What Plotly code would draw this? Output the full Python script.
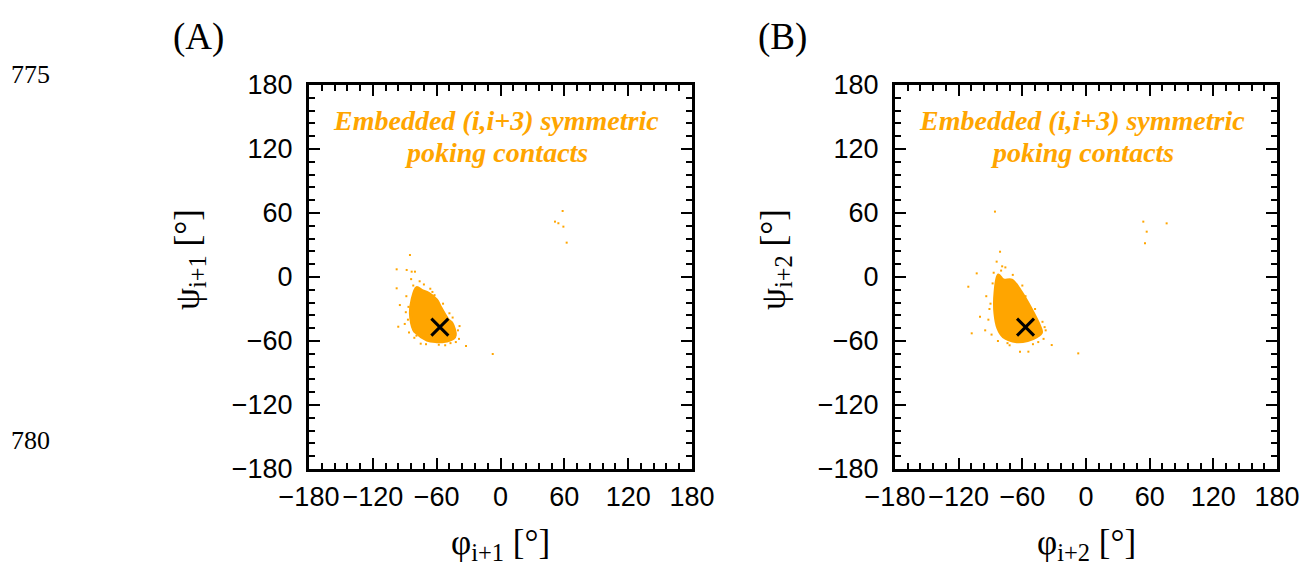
import plotly.graph_objects as go

# Dense core outline of the (phi, psi) distribution, panel A (degrees)
core_a_phi = [-78.8, -74.1, -67.6, -60.0, -56.6, -49.0, -45.6, -42.5, -44.3, -53.4, -60.0, -69.1, -80.4, -81.6, -84.7, -83.2]
core_a_psi = [-10.0, -12.5, -15.3, -21.6, -27.8, -40.3, -43.4, -54.4, -57.5, -60.6, -60.6, -59.1, -51.3, -49.7, -34.0, -21.6]

# Scattered contacts outside the core, panel A
sparse_a_phi = [-97.6, -88.2, -83.5, -85.1, -80.4, -96.1, -94.6, -97.6, -32.4, -7.3, 51.2, 54.4, 59.1, 62.2, 58.4,
                -87.0, -86.5, -82.0, -76.0, -72.0, -66.0, -62.0, -48.0, -40.0, -39.0, -42.0, -88.5, -90.0, -79.0, -70.0,
                -52.0, -58.0, -86.0, -84.0, -64.0, -54.0, -45.0, -38.5, -47.0, -75.0, -81.0, -89.0]
sparse_a_psi = [7.2, 6.6, 5.0, 20.6, 5.0, -46.6, -26.3, -10.6, -64.7, -72.2, 51.9, 50.4, 47.2, 32.2, 61.9,
                -40.0, -28.0, -8.0, -4.0, -7.0, -11.0, -17.0, -34.0, -50.0, -58.0, -61.0, -18.0, -44.0, -55.0, -63.0,
                -64.0, -63.5, -52.0, -2.0, -14.0, -25.0, -38.0, -46.0, -62.0, -62.5, -57.0, -33.0]

# Dense core outline, panel B
core_b_phi = [-77.9, -70.0, -62.2, -52.8, -43.4, -42.0, -46.4, -55.0, -65.3, -77.9, -83.0, -85.8, -85.8, -82.6]
core_b_psi = [-2.8, -2.8, -12.2, -27.8, -46.6, -52.0, -56.0, -59.5, -60.6, -56.0, -48.0, -34.1, -15.3, 1.9]

# Scattered contacts outside the core, panel B
sparse_b_phi = [-85.8, -81.0, -84.2, -103.0, -110.9, -99.9, -107.7, -62.2, -54.3, -32.3, -7.3, 54.0, 76.0, 57.2, 55.6,
                -90.0, -92.0, -88.0, -80.0, -76.0, -69.0, -60.0, -48.0, -38.0, -40.0, -94.0, -95.0, -83.0, -72.0, -50.0,
                -79.0, -89.0, -87.0, -67.0, -57.0, -41.0, -39.0, -45.0, -74.0, -91.0]
sparse_b_psi = [61.3, 23.7, 14.4, 3.4, -9.1, -37.2, -52.8, -70.0, -70.0, -63.8, -71.6, 51.9, 50.3, 42.5, 31.6,
                -25.0, -40.0, -6.0, 6.0, 9.0, 2.0, -8.0, -30.0, -50.0, -58.0, -18.0, -50.0, -60.0, -64.0, -63.0,
                10.0, -54.0, 4.0, -6.0, -18.0, -42.0, -47.0, -61.0, -62.0, -30.0]

# Ideal right-handed alpha-helix reference point
helix_phi = [-57]
helix_psi = [-47]

tick_vals = [-180, -120, -60, 0, 60, 120, 180]
orange = "#FFA500"

fig = go.Figure()

for core_phi, core_psi, sp_phi, sp_psi, xa, ya in [
    (core_a_phi, core_a_psi, sparse_a_phi, sparse_a_psi, "x", "y"),
    (core_b_phi, core_b_psi, sparse_b_phi, sparse_b_psi, "x2", "y2"),
]:
    fig.add_trace(go.Scatter(x=core_phi + core_phi[:1], y=core_psi + core_psi[:1], mode="lines",
                             fill="toself", fillcolor=orange, line=dict(color=orange, width=3, shape="spline"),
                             xaxis=xa, yaxis=ya, showlegend=False, hoverinfo="skip"))
    fig.add_trace(go.Scatter(x=sp_phi, y=sp_psi, mode="markers",
                             marker=dict(symbol="square", size=2, color=orange, line=dict(width=0)),
                             xaxis=xa, yaxis=ya, showlegend=False))
    fig.add_trace(go.Scatter(x=helix_phi, y=helix_psi, mode="markers",
                             marker=dict(symbol="x-thin", size=17, line=dict(color="black", width=3)),
                             xaxis=xa, yaxis=ya, showlegend=False))

y_dom = [1 - 469 / 565, 1 - 85 / 565]
axis_common = dict(
    range=[-180, 180], tickvals=tick_vals, ticks="inside", ticklen=11, tickwidth=2, tickcolor="black",
    showline=True, linewidth=3, linecolor="black", mirror="allticks", showgrid=False, zeroline=False,
    tickfont=dict(family="Liberation Sans, Arial, sans-serif", size=27, color="black"),
    minor=dict(dtick=12, tick0=0, ticks="inside", ticklen=6, tickwidth=2, tickcolor="black", showgrid=False),
    automargin=False, fixedrange=True,
)

fig.update_layout(
    width=1308, height=565, margin=dict(l=0, r=0, t=0, b=0, pad=0, autoexpand=False),
    paper_bgcolor="white", plot_bgcolor="white", showlegend=False,
    xaxis=dict(domain=[309 / 1308, 692 / 1308], anchor="y", ticklabelstandoff=2, **axis_common),
    yaxis=dict(domain=y_dom, anchor="x", ticklabelstandoff=8, **axis_common),
    xaxis2=dict(domain=[895 / 1308, 1277 / 1308], anchor="y2", ticklabelstandoff=2, **axis_common),
    yaxis2=dict(domain=y_dom, anchor="x2", ticklabelstandoff=8, **axis_common),
)

serif = "Liberation Serif, Times New Roman, serif"


def note(x, y, text, size, angle=0, color="black"):
    return dict(x=x / 1308, y=1 - y / 565, xref="paper", yref="paper", text=text, showarrow=False,
                xanchor="center", yanchor="middle", textangle=angle,
                font=dict(family=serif, size=size, color=color))


annotations = [
    note(496, 120, "<b><i>Embedded (i,i+3) symmetric</i></b>", 28, color=orange),
    note(496, 152, "<b><i>poking contacts</i></b>", 28, color=orange),
    note(1082, 120, "<b><i>Embedded (i,i+3) symmetric</i></b>", 28, color=orange),
    note(1082, 152, "<b><i>poking contacts</i></b>", 28, color=orange),
    note(500, 544, "φ<sub>i+1</sub> [°]", 35),
    note(1086, 544, "φ<sub>i+2</sub> [°]", 35),
    note(189, 260, "ψ<sub>i+1</sub> [°]", 35, angle=-90),
    note(775, 260, "ψ<sub>i+2</sub> [°]", 35, angle=-90),
    note(198, 37, "(A)", 37),
    note(782, 37, "(B)", 37),
    note(30, 75, "775", 26),
    note(30, 440, "780", 26),
]
fig.update_layout(annotations=annotations)

fig.write_html("out.html")
